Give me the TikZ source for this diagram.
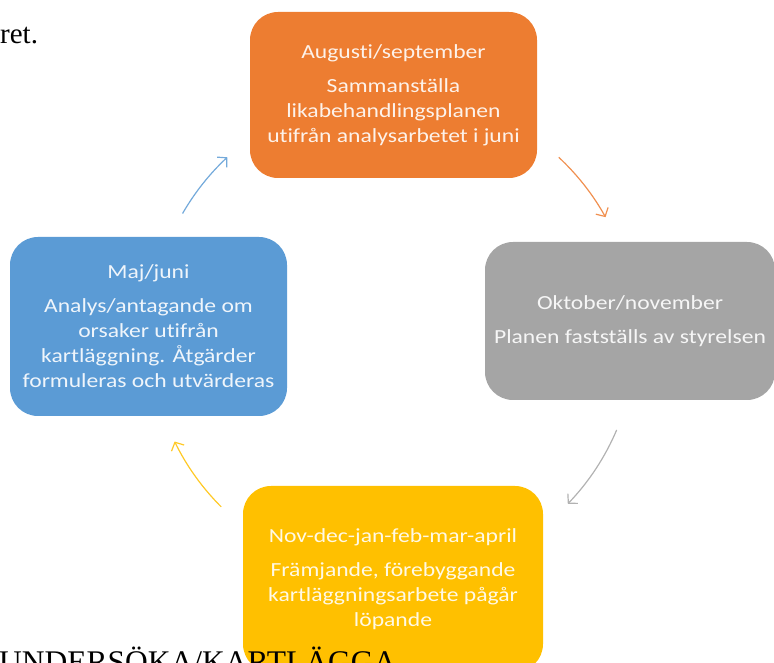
\documentclass[tikz,border=0pt]{standalone}
\usepackage{fontspec}
\setmainfont{Liberation Serif}
\newfontfamily\boxfont[FakeStretch=1.18,Ligatures=NoCommon]{Carlito}
\usetikzlibrary{arrows.meta,calc}
\definecolor{augOrange}{HTML}{ED7D31}
\definecolor{oktGray}{HTML}{A5A5A5}
\definecolor{novYellow}{HTML}{FFC000}
\definecolor{majBlue}{HTML}{5B9BD5}
\tikzset{
	phase/.style={fill=#1,rounded corners=28pt,text=white!90!#1,align=center,inner sep=0pt,
		font=\boxfont\fontsize{20}{25}\selectfont},
	cycle arrow/.style={draw=#1!85,line width=1.2pt,-{Straight Barb[length=6.5pt,width=14pt]}},
	page text/.style={anchor=base west,inner sep=0pt,font=\fontsize{29}{34}\selectfont},
}
\begin{document}
\begin{tikzpicture}[x=1pt,y=1pt]
	\clip (0,0) rectangle (774,662);
	\node[phase=augOrange,minimum width=287pt,minimum height=166pt] (aug) at (393.5,567) {Augusti/september\\[9pt]Sammanställa\\likabehandlingsplanen\\utifrån analysarbetet i juni};
	\node[phase=oktGray,minimum width=290pt,minimum height=158pt] (okt) at (630,341) {Oktober/november\\[9pt]Planen fastställs av styrelsen};
	\node[phase=novYellow,minimum width=300pt,minimum height=186pt] (nov) at (393,83) {Nov-dec-jan-feb-mar-april\\[9pt]Främjande, förebyggande\\kartläggningsarbete pågår\\löpande};
	\node[phase=majBlue,minimum width=277pt,minimum height=179pt] (maj) at (148.5,335.5) {Maj/juni\\[9pt]Analys/antagande om\\orsaker utifrån\\kartläggning. Åtgärder\\formuleras och utvärderas};
	% arrows round the cycle
	\coordinate (mid) at (393,327);
	\draw[cycle arrow=augOrange] ($(mid)+(47:243)$) arc[start angle=47,end angle=29,radius=243];
	\draw[cycle arrow=oktGray] ($(mid)+(-23:243)$) arc[start angle=-23,end angle=-44,radius=243];
	\draw[cycle arrow=novYellow] ($(mid)+(225:243)$) arc[start angle=225,end angle=206,radius=243];
	\draw[cycle arrow=majBlue] ($(mid)+(150:243)$) arc[start angle=150,end angle=133,radius=243];
	% running text of the page
	\node[page text] (ret) at (0,618) {ret.};
	\node[page text,font=\fontsize{31.5}{36}\selectfont] (undersoka) at (-1,-10) {UNDERSÖKA/KARTLÄGGA};
\end{tikzpicture}
\end{document}
